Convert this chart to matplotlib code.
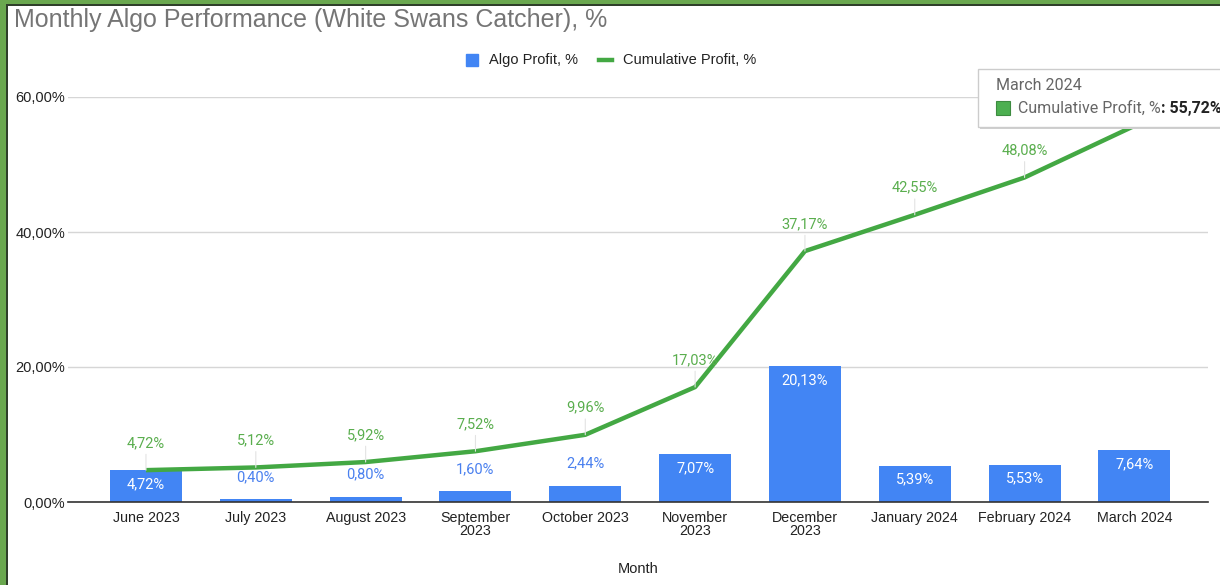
import matplotlib
matplotlib.use("Agg")
import matplotlib.pyplot as plt
from matplotlib.patches import Rectangle
from matplotlib.lines import Line2D

months = ["June 2023", "July 2023", "August 2023", "September\n2023", "October 2023",
          "November\n2023", "December\n2023", "January 2024", "February 2024", "March 2024"]
algo_profit = [4.72, 0.40, 0.80, 1.60, 2.44, 7.07, 20.13, 5.39, 5.53, 7.64]
cumulative_profit = [4.72, 5.12, 5.92, 7.52, 9.96, 17.03, 37.17, 42.55, 48.08, 55.72]
yticks = [0, 20, 40, 60]
tooltip_month = "March 2024"

BLUE = "#4285f4"
GREEN = "#43a843"
GREEN_LBL = "#5aae4e"
BLUE_LBL = "#4a80ef"

W, H = 1220, 585
fig = plt.figure(figsize=(W / 100, H / 100), dpi=100)
fig.patch.set_facecolor("white")

def fx(px):
    return px / W

def fy(py):
    return 1 - py / H

ax = fig.add_axes([fx(68), fy(502), fx(1208) - fx(68), fy(97) - fy(502)])
ax.set_facecolor("white")
x = list(range(len(months)))

ax.bar(x, algo_profit, width=0.655, color=BLUE, zorder=2)
ax.plot(x, cumulative_profit, color=GREEN, lw=3.2, zorder=3, solid_capstyle="butt")

ax.set_xlim(-0.71, 9.67)
ax.set_ylim(0, 60)
ax.set_yticks(yticks)
ax.set_yticklabels([f"{v:.2f}%".replace(".", ",") for v in yticks],
                   fontsize=10.5, color="#222222", family="Liberation Sans")
ax.set_xticks(x)
ax.set_xticklabels(months, fontsize=10.3, color="#222222", family="Liberation Sans",
                   linespacing=0.95)
ax.tick_params(axis="both", length=0)
ax.tick_params(axis="x", pad=6.5)
ax.tick_params(axis="y", pad=2)
ax.grid(axis="y", color="#d6d6d6", lw=1, zorder=0)
ax.set_axisbelow(True)
for s in ["top", "right", "left"]:
    ax.spines[s].set_visible(False)
ax.spines["bottom"].set_color("#333333")
ax.spines["bottom"].set_linewidth(1.2)
ax.spines["bottom"].set_zorder(4)

fig.text(fx(638), fy(569), "Month", fontsize=10.5, family="Liberation Sans",
         color="#222222", ha="center", va="center")

def fmt(v):
    return f"{v:.2f}%".replace(".", ",")

# bar labels
for xi, v in zip(x, algo_profit):
    if v > 4:
        ax.annotate(fmt(v), (xi, v), xytext=(0, -14), textcoords="offset pixels",
                    ha="center", va="center", color="white", fontsize=10.5,
                    family="Roboto", zorder=5)
    else:
        ax.annotate(fmt(v), (xi, v), xytext=(0, 22), textcoords="offset pixels",
                    ha="center", va="center", color=BLUE_LBL, fontsize=10.5,
                    family="Roboto", zorder=5)

# line labels with faint leaders (the last one is hidden behind the tooltip)
for xi, v, m in zip(x, cumulative_profit, months):
    if m == tooltip_month:
        continue
    ax.annotate(fmt(v), (xi, v), xytext=(0, 27), textcoords="offset pixels",
                ha="center", va="center", color=GREEN_LBL, fontsize=10.5,
                family="Roboto", zorder=5, annotation_clip=False,
                arrowprops=dict(arrowstyle="-", color="#e3e3e3", lw=0.8,
                                shrinkA=1, shrinkB=0))

# title
fig.text(fx(14), fy(20), "Monthly Algo Performance (White Swans Catcher), %",
         fontsize=18, color="#757575", family="Liberation Sans", va="center", ha="left")

# legend
fig.add_artist(Rectangle((fx(466), fy(66)), fx(12), fy(54) - fy(66),
                         transform=fig.transFigure, color=BLUE))
fig.text(fx(489), fy(60), "Algo Profit, %", fontsize=10.5, color="#222222",
         family="Liberation Sans", va="center")
fig.add_artist(Line2D([fx(599), fx(612)], [fy(60), fy(60)], transform=fig.transFigure,
                      color=GREEN, lw=3.2))
fig.text(fx(623), fy(60), "Cumulative Profit, %", fontsize=10.5, color="#222222",
         family="Liberation Sans", va="center")

# tooltip
fig.add_artist(Rectangle((fx(980), fy(129)), fx(260), fy(69) - fy(129),
                         transform=fig.transFigure, facecolor="#d0d0d0",
                         edgecolor="none", zorder=9))
fig.add_artist(Rectangle((fx(978), fy(127)), fx(260), fy(69) - fy(127),
                         transform=fig.transFigure, facecolor="white",
                         edgecolor="#cccccc", lw=1, zorder=10))
fig.text(fx(996), fy(86), tooltip_month, fontsize=11.5, color="#666666",
         family="Roboto", va="center", zorder=11)
fig.add_artist(Rectangle((fx(996), fy(115)), fx(14), fy(101) - fy(115),
                         transform=fig.transFigure, facecolor="#4caf50",
                         edgecolor="#3d8b40", lw=0.8, zorder=11))
t = fig.text(fx(1018), fy(108), "Cumulative Profit, %", fontsize=11.5, color="#666666",
             family="Roboto", va="center", zorder=11)
fig.canvas.draw()
bb = t.get_window_extent()
fig.text(bb.x1 / W + 0.0005, fy(108), ": " + fmt(cumulative_profit[months.index(tooltip_month)]),
         fontsize=11.5, color="#222222", family="Roboto", weight="bold",
         va="center", zorder=11)

# green frame (left and top)
fig.add_artist(Rectangle((0, 0), fx(6), 1, transform=fig.transFigure,
                         facecolor="#6aa84f", edgecolor="none", zorder=20))
fig.add_artist(Rectangle((fx(6), 0), fx(2), 1, transform=fig.transFigure,
                         facecolor="#2f3f2a", edgecolor="none", zorder=20))
fig.add_artist(Rectangle((0, fy(4)), 1, fy(0) - fy(4), transform=fig.transFigure,
                         facecolor="#6aa84f", edgecolor="none", zorder=20))
fig.add_artist(Rectangle((fx(6), fy(6)), 1, fy(4) - fy(6), transform=fig.transFigure,
                         facecolor="#2f3f2a", edgecolor="none", zorder=20))

fig.savefig("out.png", dpi=100, facecolor="white")
